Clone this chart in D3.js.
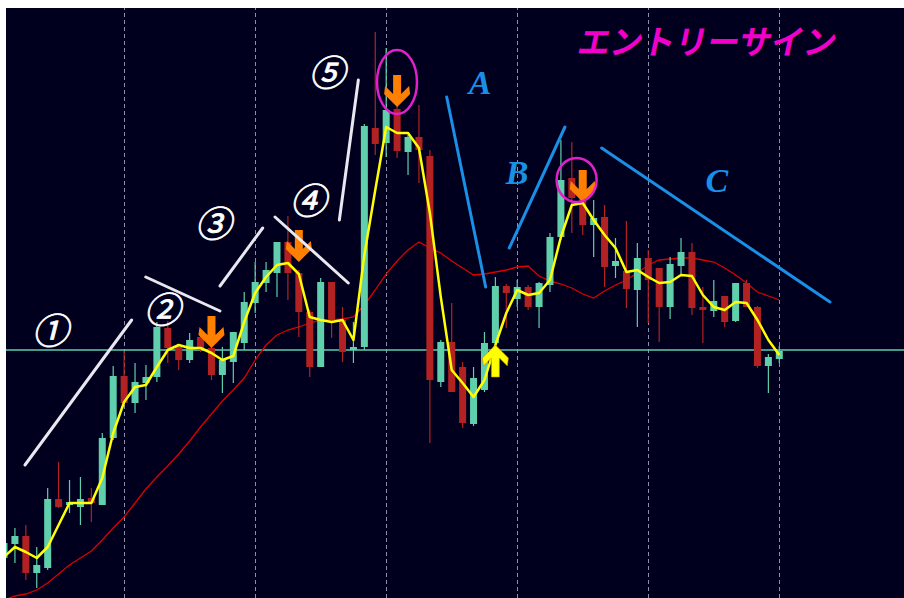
<!DOCTYPE html>
<html>
<head>
<meta charset="utf-8">
<script src="https://cdn.jsdelivr.net/npm/d3@7/dist/d3.min.js"></script>
<style>
  body { margin: 0; background: #fff; }
</style>
</head>
<body>
<div id="chart"></div>
<script>
// ローソク足 (72本)
const opens = [107.92,108.06,108.14,107.77,107.82,108.51,108.45,108.43,108.52,108.45,109.12,109.74,
  109.47,109.67,109.73,110.22,110.03,109.90,110.13,110.02,109.75,109.88,110.07,110.47,
  110.67,110.77,111.08,110.77,110.38,109.83,110.68,110.30,110.00,110.03,112.22,112.07,
  112.41,111.98,112.13,111.94,109.68,110.08,109.83,109.26,109.60,110.07,110.64,110.51,
  110.63,110.43,110.65,111.13,111.72,111.53,111.25,111.33,110.84,110.79,110.60,110.92,
  110.82,110.43,110.84,110.98,110.43,110.39,110.54,110.29,110.67,110.43,109.84,109.91]
const highs = [108.12,108.22,108.25,108.03,108.62,108.88,108.70,108.73,108.62,109.17,109.84,109.99,
  109.87,109.85,110.28,110.29,110.05,110.17,110.17,110.10,110.03,110.18,110.58,110.88,
  110.88,111.08,111.34,110.80,110.40,110.72,110.68,110.43,110.28,112.26,113.18,113.02,
  112.45,112.15,112.45,112.00,110.10,110.47,109.88,109.83,110.18,110.73,110.66,110.70,
  110.65,110.68,111.17,112.10,112.08,111.60,111.50,111.45,111.12,111.29,111.07,111.00,
  110.82,110.93,111.12,111.07,110.63,110.70,110.54,110.67,110.70,110.44,109.96,110.04]
const lows = [107.85,107.87,107.70,107.62,107.80,108.42,108.37,108.25,108.28,108.45,109.10,109.45,
  109.37,109.50,109.68,109.87,109.80,109.87,109.98,109.70,109.57,109.67,110.00,110.37,
  110.58,110.53,110.50,110.13,109.73,109.83,110.12,109.88,109.87,110.00,111.95,111.93,
  111.92,111.75,111.67,109.07,109.63,109.58,109.22,109.24,109.58,110.00,110.22,110.43,
  110.40,110.22,110.58,111.10,111.17,111.15,110.93,110.63,110.72,110.42,110.23,110.27,
  110.08,110.31,110.74,110.35,110.07,110.33,110.23,110.28,110.43,109.82,109.57,109.87]
const closes = [108.07,108.14,107.77,107.85,108.51,108.43,108.48,108.51,108.47,109.12,109.74,109.47,
  109.68,109.73,110.23,110.02,109.90,110.10,110.00,109.75,109.90,110.18,110.48,110.68,
  110.80,111.08,110.77,110.38,109.83,110.68,110.30,109.98,110.03,112.24,112.06,112.40,
  111.99,112.13,112.00,109.70,110.08,109.58,109.27,109.72,110.07,110.64,110.57,110.63,
  110.43,110.67,111.13,111.70,111.52,111.25,111.32,110.83,110.89,110.61,110.92,110.70,
  110.43,110.86,110.98,110.42,110.40,110.49,110.28,110.67,110.43,109.84,109.93,109.99]

// 移動平均線
const fastMA = [107.93,108.03,107.98,107.92,108.03,108.25,108.47,108.47,108.47,108.72,109.17,109.48,
  109.63,109.65,109.83,110.00,110.05,110.02,110.02,109.97,109.90,109.94,110.28,110.57,
  110.73,110.85,110.87,110.76,110.33,110.30,110.28,110.30,110.10,110.95,111.60,112.23,
  112.17,112.17,112.02,111.37,110.53,109.80,109.67,109.53,109.70,110.05,110.37,110.60,
  110.55,110.57,110.70,111.13,111.45,111.47,111.30,111.15,111.02,110.78,110.80,110.73,
  110.67,110.68,110.75,110.74,110.55,110.43,110.40,110.48,110.47,110.30,110.10,109.95]
const slowMA = [107.50,107.54,107.56,107.60,107.67,107.76,107.85,107.92,107.99,108.10,108.22,108.33,
  108.47,108.61,108.73,108.84,108.96,109.09,109.23,109.36,109.49,109.60,109.72,109.90,
  110.05,110.15,110.20,110.23,110.27,110.30,110.30,110.31,110.33,110.45,110.60,110.76,
  110.89,111.00,111.08,111.02,110.97,110.89,110.82,110.75,110.76,110.78,110.80,110.83,
  110.84,110.74,110.69,110.66,110.62,110.56,110.52,110.59,110.65,110.70,110.77,110.85,
  110.90,110.91,110.92,110.92,110.90,110.88,110.82,110.75,110.67,110.58,110.54,110.50]

const levelPrice = 110.00
const gridIdx = [11, 23, 35, 47, 59, 71]

// サイン (足の番号, 価格)
const sellSigns = [[19, 110.02], [27, 110.88], [36, 112.43], [53, 111.48]]
const buySigns = [[45, 110.05]]
const circles = [[35.99, 112.68, 20, 32], [52.44, 111.70, 20, 22]]

// 波のライン [i1, p1, i2, p2]
const waveLines = [[1.92, 108.85, 11.69, 110.30], [12.98, 110.73, 19.78, 110.39],
  [19.78, 110.64, 23.69, 111.22], [24.82, 111.33, 31.53, 110.67], [30.71, 111.30, 32.45, 112.70]]
const waveLabels = ['①', '②', '③', '④', '⑤']
const waveLabelPos = [[4.21, 110.22], [14.47, 110.43], [19.14, 111.29], [27.84, 111.52], [29.55, 112.80]]
const abcLines = [[40.54, 112.53, 44.11, 110.63], [46.27, 111.02, 51.37, 112.23], [54.73, 112.02, 75.64, 110.48]]
const abcLabels = ['A', 'B', 'C']
const abcLabelPos = [[43.59, 112.68], [46.98, 111.78], [65.29, 111.70]]
const title = 'エントリーサイン'

const w = 904, h = 598
const plot = {left: 6, top: 8, right: 904, bottom: 598}

let svg = d3.select('#chart').append('svg').attr('width', w).attr('height', h)
svg.append('rect').attr('width', w).attr('height', h).attr('fill', '#fff')
svg.append('rect').attr('x', plot.left).attr('y', plot.top)
  .attr('width', plot.right - plot.left).attr('height', plot.bottom - plot.top)
  .attr('fill', '#00001e')
svg.append('clipPath').attr('id', 'clip').append('rect')
  .attr('x', plot.left).attr('y', plot.top)
  .attr('width', plot.right - plot.left).attr('height', plot.bottom - plot.top)

let xScale = d3.scaleLinear().domain([0, 71]).range([4, 779.3])
let yScale = d3.scaleLinear().domain([107.52, 113.42]).range([plot.bottom, plot.top])

let g = svg.append('g').attr('clip-path', 'url(#clip)')

// 縦のグリッド
let grid = g.append('g').attr('transform', `translate(0, ${plot.bottom})`)
  .call(d3.axisBottom(xScale).tickValues(gridIdx).tickFormat('')
    .tickSize(-(plot.bottom - plot.top)).tickSizeOuter(0))
grid.select('.domain').remove()
grid.selectAll('line').attr('stroke', '#8a90a8').attr('stroke-dasharray', '4,3')
  .attr('shape-rendering', 'crispEdges')

// 水平線
g.append('line').attr('x1', plot.left).attr('x2', plot.right)
  .attr('y1', yScale(levelPrice)).attr('y2', yScale(levelPrice))
  .attr('stroke', '#5ccfae').attr('stroke-width', 1.5)

// 遅い移動平均
let line = (arr) => d3.line().x((d, i) => xScale(i)).y(d => yScale(d))(arr)
g.append('path').attr('d', line(slowMA)).attr('fill', 'none')
  .attr('stroke', '#dc0000').attr('stroke-width', 1.3)

// ローソク足
let bw = 7
g.append('g').selectAll('g').data(opens).enter().append('g')
  .each(function (o, i) {
    let sel = d3.select(this)
    let c = closes[i]
    let color = c >= o ? '#5fcfac' : '#b22222'
    let x = xScale(i)
    sel.append('line').attr('x1', x).attr('x2', x)
      .attr('y1', yScale(highs[i])).attr('y2', yScale(lows[i]))
      .attr('stroke', color).attr('stroke-width', 1.2)
    let top = yScale(Math.max(o, c)), bot = yScale(Math.min(o, c))
    sel.append('rect').attr('x', x - bw / 2).attr('y', top)
      .attr('width', bw).attr('height', Math.max(1.5, bot - top))
      .attr('fill', color)
  })

// 速い移動平均
g.append('path').attr('d', line(fastMA)).attr('fill', 'none')
  .attr('stroke', '#ffff00').attr('stroke-width', 2.5).attr('stroke-linejoin', 'round')

// 矢印
let downArrow = 'M-4,-32 L4,-32 L4,-13 L12,-21 L13,-13 L0,0 L-13,-13 L-12,-21 L-4,-13 Z'
g.append('g').selectAll('path').data(sellSigns).enter().append('path')
  .attr('d', downArrow).attr('fill', '#ff7f00')
  .attr('transform', d => `translate(${xScale(d[0])}, ${yScale(d[1])})`)
g.append('g').selectAll('path').data(buySigns).enter().append('path')
  .attr('d', downArrow).attr('fill', '#ffff00').attr('stroke', '#d08000').attr('stroke-width', 0.6)
  .attr('transform', d => `translate(${xScale(d[0])}, ${yScale(d[1])}) scale(1,-1)`)

// 丸
g.append('g').selectAll('ellipse').data(circles).enter().append('ellipse')
  .attr('cx', d => xScale(d[0])).attr('cy', d => yScale(d[1]))
  .attr('rx', d => d[2]).attr('ry', d => d[3])
  .attr('fill', 'none').attr('stroke', '#e020c8').attr('stroke-width', 2.5)

// ライン
let segs = (data, color, width) => g.append('g').selectAll('line').data(data).enter().append('line')
  .attr('x1', d => xScale(d[0])).attr('y1', d => yScale(d[1]))
  .attr('x2', d => xScale(d[2])).attr('y2', d => yScale(d[3]))
  .attr('stroke', color).attr('stroke-width', width).attr('stroke-linecap', 'round')
segs(waveLines, '#e8e8f0', 3)
segs(abcLines, '#1a8fe6', 3)

// ラベル
g.append('g').selectAll('text').data(waveLabels).enter().append('text')
  .text(d => d)
  .attr('x', (d, i) => xScale(waveLabelPos[i][0]))
  .attr('y', (d, i) => yScale(waveLabelPos[i][1]))
  .attr('text-anchor', 'middle').attr('dominant-baseline', 'central')
  .attr('font-family', '"Noto Sans CJK JP", sans-serif')
  .attr('font-style', 'italic').attr('font-size', 36)
  .attr('fill', '#fff').attr('stroke', '#fff').attr('stroke-width', 0.8)
g.append('g').selectAll('text').data(abcLabels).enter().append('text')
  .text(d => d)
  .attr('x', (d, i) => xScale(abcLabelPos[i][0]))
  .attr('y', (d, i) => yScale(abcLabelPos[i][1]))
  .attr('text-anchor', 'middle').attr('dominant-baseline', 'central')
  .attr('font-family', '"Liberation Serif", serif')
  .attr('font-style', 'italic').attr('font-weight', 'bold').attr('font-size', 34)
  .attr('fill', '#1a8fe6')

// タイトル
svg.append('text').text(title)
  .attr('x', w - 328).attr('y', 54)
  .attr('font-family', '"Noto Sans CJK JP", sans-serif')
  .attr('font-weight', 'bold').attr('font-size', 33)
  .attr('textLength', 258).attr('lengthAdjust', 'spacingAndGlyphs')
  .attr('fill', '#f000c8')
  .attr('transform', `skewX(-12) translate(${54 * 0.2126}, 0)`)
</script>
</body>
</html>
